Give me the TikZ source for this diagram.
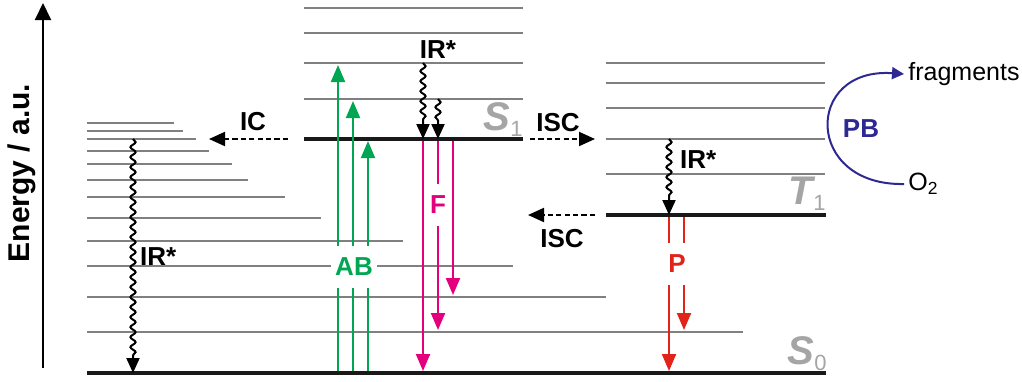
\documentclass[tikz,border=0pt]{standalone}
\usepackage{fontspec}
\setmainfont{Liberation Sans}
\usetikzlibrary{arrows.meta,decorations.pathmorphing,calc}
\definecolor{abGreen}{RGB}{0,166,81}
\definecolor{flMagenta}{RGB}{228,0,124}
\definecolor{phRed}{RGB}{226,35,26}
\definecolor{pbBlue}{RGB}{46,40,146}
\definecolor{stGrey}{RGB}{165,165,165}
\tikzset{jablonski/.style={
  x=0.5pt, y=-0.5pt,
  font=\fontsize{13}{15}\selectfont\bfseries,
  vib/.style={draw=black!50, line width=0.55pt},
  level/.style={draw=black!90, line width=2pt},
  rad/.style={-{Triangle[length=8.5pt, width=7pt]}, line width=1pt},
  cross/.style={-{Triangle[length=8pt, width=7pt]}, line width=1pt, dash pattern=on 2.6pt off 1.6pt},
  relax/.style={-{Triangle[length=7.5pt, width=6.5pt]}, line width=1pt, decorate,
    decoration={snake, amplitude=1.3pt, segment length=5pt, post length=7.5pt}},
  gap/.style={fill=white, inner xsep=2pt, inner ysep=0pt, minimum height=21pt},
  state/.style={text=stGrey, font=\fontsize{20}{22}\selectfont\bfseries\itshape, inner sep=0pt, anchor=south east},
  plain/.style={font=\fontsize{12.5}{15}\selectfont, inner sep=2pt, anchor=west},
}}

\begin{document}
\begin{tikzpicture}[jablonski]
\useasboundingbox (0,0) rectangle (1022,381);

% ---- energy axis ----
\coordinate (ax0) at (43,368);
\coordinate (ax1) at (43,3);
\draw[-{Triangle[length=8.5pt, width=8pt]}, line width=1pt] (ax0) -- (ax1);
\node[rotate=90, font=\fontsize{15}{17}\selectfont\bfseries] (elab) at (22,173) {Energy / a.u.};

% ---- vibrational ladders ----
% hot ground state manifold on the left
\foreach \y/\xe [count=\i] in {123/174,131/183,139/196,151/209,164/232,180/248,
                               197/285,218/321,241/403,266/513,297/606,332/743}{
  \draw[vib] (87,\y) coordinate (lv\i) -- (\xe,\y);
}
% above S1
\foreach \y [count=\i] in {8,33,63,99}{
  \draw[vib] (304,\y) coordinate (sv\i) -- (523,\y);
}
% above T1
\foreach \y [count=\i] in {63,83,108,139,174}{
  \draw[vib] (606,\y) coordinate (tv\i) -- (825,\y);
}

% ---- electronic states ----
\draw[level] (87,373) coordinate (s0l) -- (826,373) coordinate (s0r);
\draw[level] (304,139) coordinate (s1l) -- (523,139) coordinate (s1r);
\draw[level] (606,215) coordinate (t1l) -- (826,215) coordinate (t1r);
\node[state] (s0) at ($(s0r)+(1,-2)$) {S\raisebox{-3pt}{\fontsize{11}{11}\selectfont\upshape\mdseries 0}};
\node[state] (s1) at ($(s1r)+(0,-2)$) {S\raisebox{-3pt}{\fontsize{11}{11}\selectfont\upshape\mdseries 1}};
\node[state] (t1) at ($(t1r)+(0,-4)$) {T\raisebox{-3pt}{\fontsize{11}{11}\selectfont\upshape\mdseries 1}};

% ---- columns of the transitions ----
\coordinate (irx) at (133,0);
\coordinate (ab1) at (338,0);
\coordinate (ab2) at (353,0);
\coordinate (ab3) at (368,0);
\coordinate (fl1) at (423,0);
\coordinate (fl2) at (438,0);
\coordinate (fl3) at (453,0);
\coordinate (ph1) at (669,0);
\coordinate (ph2) at (684,0);

% ---- absorption, fluorescence, phosphorescence ----
\foreach \c/\lv in {ab1/sv3, ab2/sv4, ab3/s1l}{
  \draw[rad, abGreen, shorten <=1pt, shorten >=1pt] (\c |- s0l) -- (\c |- \lv);
}
\foreach \c/\lv in {fl1/s0l, fl2/lv12, fl3/lv11}{
  \draw[rad, flMagenta, shorten <=1pt, shorten >=1pt] (\c |- s1l) -- (\c |- \lv);
}
\foreach \c/\lv in {ph1/s0l, ph2/lv12}{
  \draw[rad, phRed, shorten <=1pt, shorten >=1pt] (\c |- t1l) -- (\c |- \lv);
}

% ---- vibrational relaxation ----
\draw[relax] (irx |- lv3) -- (irx |- s0l);
\draw[relax] (fl1 |- sv3) -- (fl1 |- s1l);
\draw[relax] (fl2 |- sv4) -- (fl2 |- s1l);
\draw[relax] (ph1 |- tv4) -- (ph1 |- t1l);

% ---- internal conversion, intersystem crossing ----
\draw[cross] ($(s1l)+(-16,0)$) -- ($(lv3)+(122,0)$);
\draw[cross] ($(s1r)+(7,0)$) -- ($(tv4)+(-11,0)$);
\draw[cross] ($(t1l)+(-11,0)$) -- ($(s1r |- t1l)+(5,0)$);

% ---- labels ----
\node (ic) at (253,122) {IC};
\node (isc1) at (558,123) {ISC};
\node (isc2) at (562,239) {ISC};
\node[anchor=west] (ir1) at (133,257) {IR*};
\node (ir2) at (438,50) {IR*};
\node[anchor=west] (ir3) at (673,160) {IR*};
\node[gap, text=abGreen] (ab) at (354,267) {AB};
\node[gap, text=flMagenta] (fl) at (438,205) {F};
\node[gap, text=phRed] (ph) at (677,264) {P};

% ---- photobleaching ----
\node[plain] (frag) at (904,74) {fragments};
\node[plain] (oxy) at (904,184) {O\textsubscript{2}};
\node[text=pbBlue] (pb) at (861,129) {PB};
\draw[-{Triangle[length=6pt, width=6pt]}, line width=1pt, pbBlue]
  (oxy.west) .. controls +(-100,2) and +(-100,-7) .. (frag.west);
\end{tikzpicture}
\end{document}
